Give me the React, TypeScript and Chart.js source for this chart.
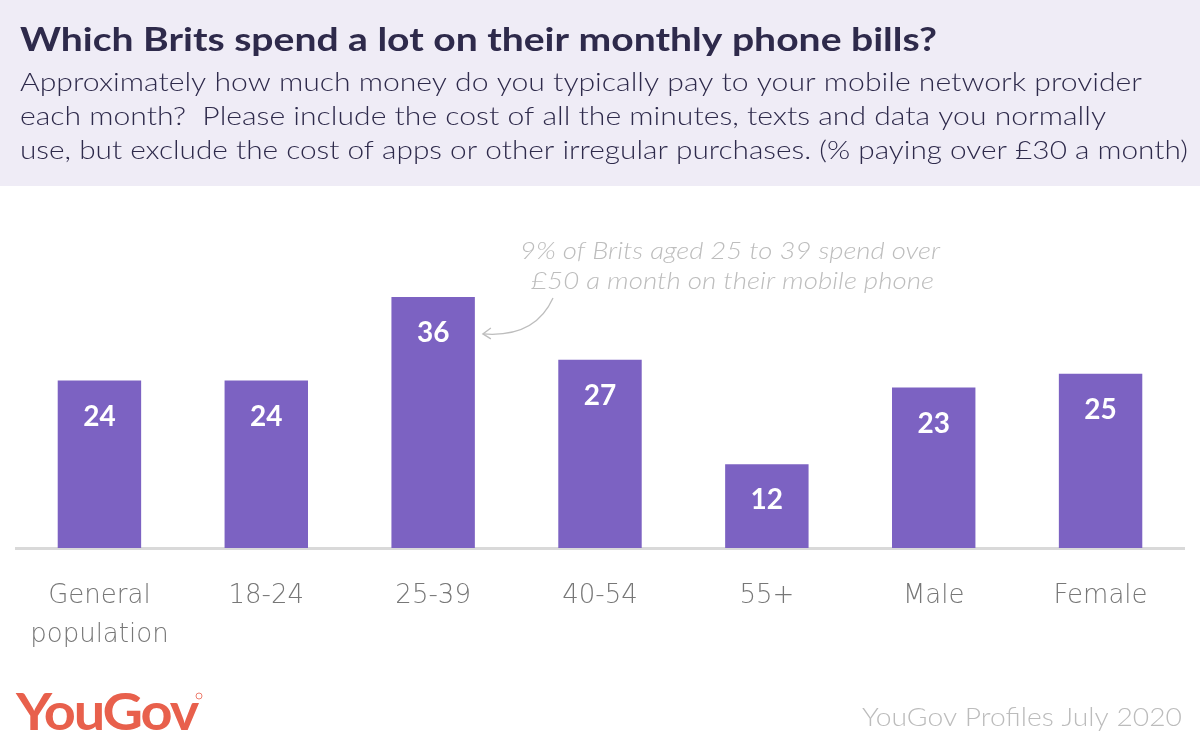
import React, { useEffect, useRef } from "react";
import { Chart, registerables } from "chart.js";

Chart.register(...registerables);

const categories: (string | string[])[] = [
  ["General", "population"],
  "18-24",
  "25-39",
  "40-54",
  "55+",
  "Male",
  "Female",
];
const values: number[] = [24, 24, 36, 27, 12, 23, 25];

const titleText = "Which Brits spend a lot on their monthly phone bills?";
const subtitleLines: string[] = [
  "Approximately how much money do you typically pay to your mobile network provider",
  "each month?  Please include the cost of all the minutes, texts and data you normally",
  "use, but exclude the cost of apps or other irregular purchases. (% paying over £30 a month)",
];
const annotationLines: string[] = [
  "9% of Brits aged 25 to 39 spend over",
  "£50 a month on their mobile phone",
];
const sourceText = "YouGov Profiles July 2020";
const logoText = "YouGov";

const FONT = "Lato, 'Open Sans', sans-serif";
const TICKFONT = "'DejaVu Sans', 'Open Sans', sans-serif";
const BAR = "#7c62c2";

// draw text horizontally stretched to a target width
function fitText(ctx: any, text: string, x: number, y: number, w: number, align: "left" | "right" | "center") {
  const m = ctx.measureText(text).width;
  const s = w / m;
  ctx.save();
  ctx.textAlign = "left";
  let x0 = x;
  if (align === "right") x0 = x - w;
  if (align === "center") x0 = x - w / 2;
  ctx.translate(x0, y);
  ctx.scale(s, 1);
  ctx.fillText(text, 0, 0);
  ctx.restore();
}

const decorPlugin = {
  id: "decor",
  beforeDraw(chart: any) {
    const { ctx, width } = chart;
    ctx.save();
    ctx.fillStyle = "#ffffff";
    ctx.fillRect(0, 0, width, chart.height);
    ctx.fillStyle = "#efecf6";
    ctx.fillRect(0, 0, width, 186);
    ctx.restore();
  },
  afterDraw(chart: any) {
    const { ctx } = chart;
    ctx.save();
    ctx.textBaseline = "middle";
    // title
    ctx.fillStyle = "#2e2a4b";
    ctx.font = `bold 32px ${FONT}`;
    fitText(ctx, titleText, 20, 41, 917, "left");
    // subtitle
    ctx.font = `300 25.5px ${FONT}`;
    const subW = [1122, 1086, 1168];
    subtitleLines.forEach((l, i) => fitText(ctx, l, 20, 83 + i * 34, subW[i], "left"));

    // value labels
    const meta = chart.getDatasetMeta(0);
    ctx.textAlign = "center";
    ctx.fillStyle = "#ffffff";
    ctx.font = `bold 28px ${FONT}`;
    meta.data.forEach((bar: any, i: number) => {
      ctx.fillText(String(values[i]), bar.x, bar.y + 36);
    });

    // annotation
    const b = meta.data[2];
    ctx.fillStyle = "#bdbdbd";
    ctx.font = `italic 300 23px ${FONT}`;
    const annW = [420, 403];
    const annX = [730, 732.5];
    annotationLines.forEach((l, i) => fitText(ctx, l, annX[i], 252 + i * 30, annW[i], "center"));
    // arrow
    const tipX = b.x + b.width / 2 + 8;
    const tipY = b.y + 37;
    ctx.strokeStyle = "#bdbdbd";
    ctx.lineWidth = 1.3;
    ctx.beginPath();
    ctx.moveTo(553, 298);
    ctx.quadraticCurveTo(535, 338, tipX, tipY);
    ctx.stroke();
    ctx.beginPath();
    ctx.moveTo(tipX + 8, tipY - 6);
    ctx.lineTo(tipX, tipY);
    ctx.lineTo(tipX + 8, tipY + 5);
    ctx.stroke();

    // logo
    ctx.fillStyle = "#e8604c";
    ctx.font = `bold 52px ${FONT}`;
    (ctx as any).letterSpacing = "-2px";
    fitText(ctx, logoText, 16, 713, 181, "left");
    (ctx as any).letterSpacing = "0px";
    ctx.strokeStyle = "#e8604c";
    ctx.lineWidth = 0.8;
    ctx.beginPath();
    ctx.arc(199, 696, 3, 0, Math.PI * 2);
    ctx.stroke();

    // source
    ctx.fillStyle = "#bcbcbc";
    ctx.font = `300 25px ${FONT}`;
    fitText(ctx, sourceText, 1182, 718, 320, "right");
    ctx.restore();
  },
};

export default function App() {
  const ref = useRef<HTMLCanvasElement | null>(null);
  useEffect(() => {
    document.body.style.margin = "0";
    const chart = new Chart(ref.current as HTMLCanvasElement, {
      type: "bar",
      data: {
        labels: categories,
        datasets: [
          {
            data: values,
            backgroundColor: BAR,
            barPercentage: 0.5,
            categoryPercentage: 1,
          },
        ],
      },
      options: {
        animation: false,
        responsive: false,
        layout: { padding: { top: 269, left: 16, right: 16, bottom: 61 } },
        plugins: { legend: { display: false }, tooltip: { enabled: false }, title: { display: false } },
        scales: {
          y: { display: false, min: 0, max: 40 },
          x: {
            grid: { display: false, drawTicks: false },
            border: { display: true, color: "#d9d9d9", width: 3 },
            ticks: {
              color: "#777777",
              font: { family: TICKFONT, size: 26, weight: 200 as any, lineHeight: 1.5 },
              padding: 29,
              maxRotation: 0,
              autoSkip: false,
            },
          },
        },
      },
      plugins: [decorPlugin],
    });
    return () => chart.destroy();
  }, []);
  return <canvas ref={ref} width={1200} height={745} style={{ display: "block" }} />;
}
